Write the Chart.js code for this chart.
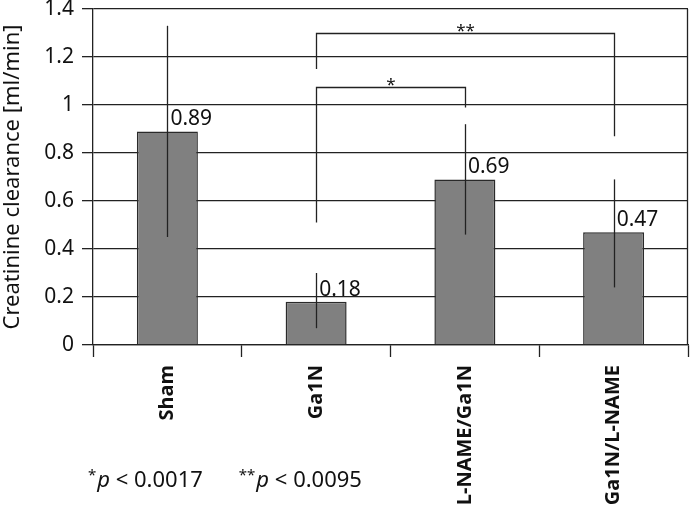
<!DOCTYPE html>
<html><head><meta charset="utf-8">
<script src="https://cdn.jsdelivr.net/npm/chart.js@4"></script>
<style>html,body{margin:0;padding:0;background:#fff}#wrap{width:690px;height:505px;position:relative}</style>
</head><body><div id="wrap"><canvas id="c"></canvas></div>
<script>
const categories = ['Sham', 'Ga1N', 'L-NAME/Ga1N', 'Ga1N/L-NAME'];
const means = [0.89, 0.18, 0.69, 0.47];
const errLow = [0.45, 0.07, 0.46, 0.24];
const errHigh = [1.33, 0.30, 0.92, 0.69];
const valueLabels = ['0.89', '0.18', '0.69', '0.47'];
const yTicks = [0, 0.2, 0.4, 0.6, 0.8, 1, 1.2, 1.4];
const bracketFrom = [1, 1];
const bracketTo = [2, 3];
const bracketTop = [1.075, 1.30];
const bracketFromEnd = [0.51, 1.15];
const bracketToEnd = [0.99, 0.87];
const bracketMarks = ['*', '**'];
const footnoteItems = [['*', '0.0017'], ['**', '0.0095']];

const FONT = '"Noto Sans", "Open Sans", sans-serif';
const INK = '#222';

const overlay = {
  id: 'overlay',
  afterDatasetsDraw(chart) {
    const ctx = chart.ctx;
    const x = chart.scales.x, y = chart.scales.y;
    ctx.save();
    ctx.strokeStyle = INK;
    ctx.lineWidth = 1.3;
    means.forEach((m, i) => {
      const cx = Math.round(x.getPixelForValue(i)) + 0.5;
      ctx.beginPath();
      ctx.moveTo(cx, y.getPixelForValue(errLow[i]));
      ctx.lineTo(cx, y.getPixelForValue(errHigh[i]));
      ctx.stroke();
    });
    ctx.fillStyle = '#111';
    ctx.font = '21px ' + FONT;
    ctx.textAlign = 'left';
    ctx.textBaseline = 'alphabetic';
    means.forEach((m, i) => {
      const cx = x.getPixelForValue(i);
      ctx.fillText(valueLabels[i], cx + 3, y.getPixelForValue(m) - 6);
    });
    bracketFrom.forEach((f, k) => {
      const x1 = Math.round(x.getPixelForValue(f)) + 0.5;
      const x2 = Math.round(x.getPixelForValue(bracketTo[k])) + 0.5;
      const yt = Math.round(y.getPixelForValue(bracketTop[k])) + 0.5;
      ctx.beginPath();
      ctx.moveTo(x1, y.getPixelForValue(bracketFromEnd[k]));
      ctx.lineTo(x1, yt);
      ctx.lineTo(x2, yt);
      ctx.lineTo(x2, y.getPixelForValue(bracketToEnd[k]));
      ctx.stroke();
      ctx.font = '17px ' + FONT;
      ctx.textAlign = 'center';
      ctx.fillText(bracketMarks[k], (x1 + x2) / 2, yt + 2);
    });
    const ca = chart.chartArea;
    ctx.beginPath();
    ctx.moveTo(Math.round(ca.right) - 0.5, ca.top);
    ctx.lineTo(Math.round(ca.right) - 0.5, ca.bottom);
    ctx.stroke();
    ctx.restore();
  },
  afterDraw(chart) {
    const ctx = chart.ctx;
    ctx.save();
    ctx.fillStyle = '#111';
    ctx.textBaseline = 'alphabetic';
    ctx.textAlign = 'left';
    let px = 88;
    const base = 487;
    footnoteItems.forEach((it, k) => {
      ctx.font = '15px ' + FONT;
      ctx.fillText(it[0], px, base - 7);
      px += ctx.measureText(it[0]).width + 1;
      ctx.font = 'italic 22px ' + FONT;
      ctx.fillText('p', px, base);
      px += ctx.measureText('p').width;
      ctx.font = '22px ' + FONT;
      const rest = ' < ' + it[1];
      ctx.fillText(rest, px, base);
      px += ctx.measureText(rest).width + 36;
    });
    ctx.restore();
  }
};

new Chart(document.getElementById('c'), {
  type: 'bar',
  data: {
    labels: categories,
    datasets: [{
      data: means,
      backgroundColor: '#808080',
      borderColor: '#2a2a2a',
      borderWidth: 1.5,
      borderSkipped: 'bottom',
      categoryPercentage: 1,
      barPercentage: 0.41
    }]
  },
  options: {
    responsive: true,
    maintainAspectRatio: false,
    animation: false,
    devicePixelRatio: 1,
    layout: { padding: { top: 9, right: 2, left: 0, bottom: 0 } },
    plugins: { legend: { display: false }, tooltip: { enabled: false } },
    scales: {
      x: {
        afterFit(s) { s.height = 160; s.paddingLeft = 0; s.paddingRight = 0; },
        grid: {
          drawOnChartArea: false,
          drawTicks: true,
          tickLength: 12,
          tickColor: INK,
          tickWidth: 1.3,
          offset: true
        },
        border: { display: true, color: INK, width: 1.3 },
        ticks: {
          minRotation: 90, maxRotation: 90, autoSkip: false,
          padding: 8,
          color: '#111',
          font: { family: FONT, size: 20, weight: 'bold' }
        }
      },
      y: {
        min: 0, max: 1.4,
        afterFit(s) { s.width = 93; s.paddingTop = 0; s.paddingBottom = 0; },
        afterBuildTicks(s) { s.ticks = yTicks.map(v => ({ value: v })); },
        grid: {
          color: INK, lineWidth: 1.3,
          drawTicks: true, tickLength: 11, tickColor: INK
        },
        border: { display: true, color: INK, width: 1.3 },
        ticks: {
          padding: 8,
          color: '#111',
          font: { family: FONT, size: 21 },
          callback: (v) => String(v)
        },
        title: {
          display: true,
          text: 'Creatinine clearance [ml/min]',
          color: '#111',
          font: { family: FONT, size: 22 },
          padding: { top: 0, bottom: 0 }
        }
      }
    }
  },
  plugins: [overlay]
});
</script>
</body></html>
